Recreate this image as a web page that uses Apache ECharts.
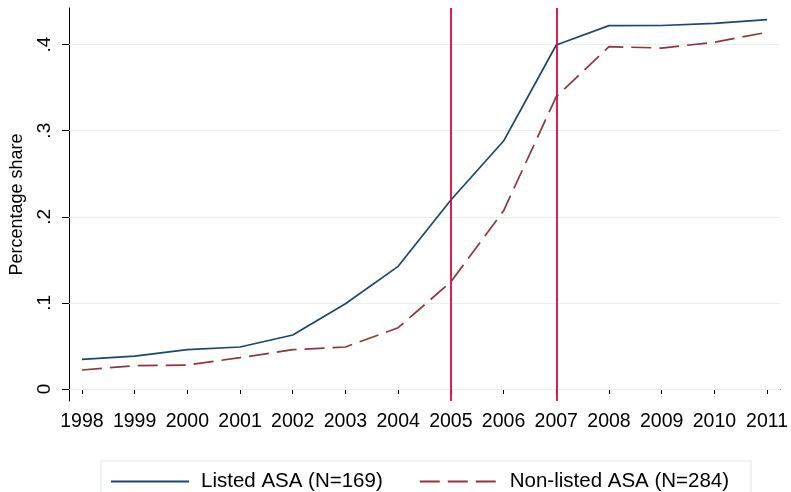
<!DOCTYPE html>
<html>
<head>
<meta charset="utf-8">
<script src="https://cdn.jsdelivr.net/npm/echarts@6/dist/echarts.min.js"></script>
<style>
html,body{margin:0;padding:0;background:#fff;}
#c{width:791px;height:492px;}
</style>
</head>
<body>
<div id="c"></div>
<script>
const years = [1998,1999,2000,2001,2002,2003,2004,2005,2006,2007,2008,2009,2010,2011];
const listed = [0.0345,0.0383,0.0457,0.0488,0.0627,0.0990,0.1425,0.2195,0.2880,0.3995,0.4220,0.4222,0.4247,0.4289];
const nonListed = [0.0221,0.0271,0.0279,0.0364,0.0457,0.0488,0.0712,0.1245,0.2070,0.3395,0.3976,0.3960,0.4027,0.4143];
const yTicks = [0, 0.1, 0.2, 0.3, 0.4];
const yTickLabels = ['0', '.1', '.2', '.3', '.4'];
const eventYears = [2005, 2007];
const seriesNames = ['Listed ASA (N=169)', 'Non-listed ASA (N=284)'];

const font = '"Liberation Sans", Arial, sans-serif';
const chart = echarts.init(document.getElementById('c'), null, {renderer: 'canvas'});

function pairs(vals) { return years.map((y, i) => [y, vals[i]]); }

chart.setOption({
  animation: false,
  backgroundColor: '#ffffff',
  grid: {left: 66, right: 9, top: 8, bottom: 91, containLabel: false},
  xAxis: {
    type: 'value',
    min: 1997.755, max: 2011.255,
    axisLine: {show: true, lineStyle: {color: '#000', width: 1}},
    axisTick: {show: true, length: 5, lineStyle: {color: '#000'}, customValues: years},
    axisLabel: {show: true, customValues: years, margin: 11, color: '#000', fontFamily: font, fontSize: 19.5,
      formatter: v => String(Math.round(v))},
    splitLine: {show: false}
  },
  yAxis: {
    type: 'value',
    min: -0.0139, max: 0.4425,
    name: 'Percentage share',
    nameLocation: 'middle',
    nameRotate: 90,
    nameGap: 43,
    nameTextStyle: {color: '#000', fontFamily: font, fontSize: 18},
    axisLine: {show: true, lineStyle: {color: '#000', width: 1}},
    axisTick: {show: true, length: 7, lineStyle: {color: '#000'}, customValues: yTicks},
    axisLabel: {show: true, customValues: yTicks, rotate: 90, margin: 15, color: '#000', fontFamily: font, fontSize: 19,
      formatter: v => { const i = yTicks.findIndex(t => Math.abs(t - v) < 1e-6); return i >= 0 ? yTickLabels[i] : ''; }},
    splitLine: {show: false}
  },
  legend: {
    data: seriesNames,
    left: 101, top: 461,
    orient: 'horizontal',
    padding: [10, 22, 14, 9],
    itemGap: 36,
    itemWidth: 78, itemHeight: 14,
    borderColor: '#dfe8e8', borderWidth: 1,
    backgroundColor: '#fff',
    itemStyle: {opacity: 0},
    textStyle: {color: '#000', fontFamily: font, fontSize: 20.5, padding: [0, 0, 0, 7]}
  },
  series: [
    {
      name: 'grid', type: 'line', data: [], z: 1, silent: true,
      markLine: {
        silent: true, z: 1, symbol: ['none', 'none'], label: {show: false},
        lineStyle: {color: '#e6eeee', width: 1.2, type: 'solid'},
        data: yTicks.map(t => ({yAxis: t}))
      }
    },
    {
      name: seriesNames[0], type: 'line', data: pairs(listed), symbol: 'none', z: 3,
      lineStyle: {color: '#1a476f', width: 1.7, type: 'solid'},
      itemStyle: {color: '#1a476f'}
    },
    {
      name: seriesNames[1], type: 'line', data: pairs(nonListed), symbol: 'none', z: 3,
      lineStyle: {color: '#90353b', width: 1.7, type: [20, 8]},
      itemStyle: {color: '#90353b'}
    },
    {
      name: 'events', type: 'line', data: [], z: 4, silent: true,
      markLine: {
        silent: true, z: 5, symbol: ['none', 'none'], label: {show: false},
        lineStyle: {color: '#d8083a', width: 1.8, type: 'solid'},
        data: eventYears.map(y => ({xAxis: y}))
      }
    }
  ]
});
</script>
</body>
</html>
